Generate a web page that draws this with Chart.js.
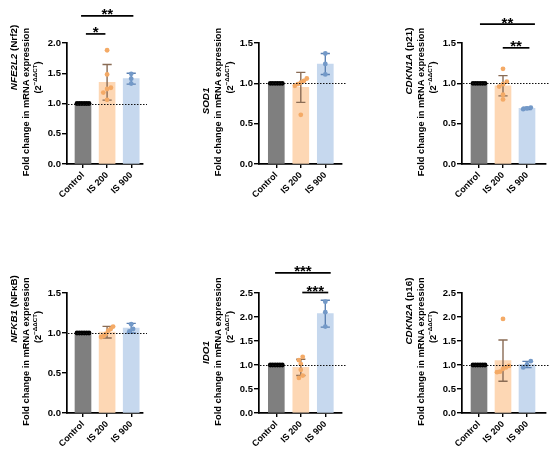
<!DOCTYPE html>
<html>
<head>
<meta charset="utf-8">
<script src="https://cdn.jsdelivr.net/npm/chart.js@4.4.1/dist/chart.umd.min.js"></script>
<style>
  html, body { margin: 0; padding: 0; background: #ffffff; }
  body { width: 550px; height: 455px; position: relative; overflow: hidden; }
  canvas { position: absolute; }
</style>
</head>
<body>
<script>
// ---------------- DATA ----------------
const categories = ['Control', 'IS 200', 'IS 900'];
const geneNames = ['NFE2L2', 'SOD1', 'CDKN1A', 'NFKB1', 'IDO1', 'CDKN2A'];
const geneAliases = [' (Nrf2)', '', ' (p21)', ' (NF\u03BAB)', '', ' (p16)'];
const yAxisMax = [2.0, 1.5, 1.5, 1.5, 2.5, 2.5];
const yTickStep = 0.5;

const nfe2l2Mean = [1.00, 1.35, 1.41];
const nfe2l2SD = [0.00, 0.295, 0.09];
const nfe2l2Control = [1, 1, 1, 1, 1, 1];
const nfe2l2IS200 = [1.88, 1.48, 1.26, 1.24, 1.18, 1.06];
const nfe2l2IS900 = [1.49, 1.41, 1.33];
const nfe2l2Brackets = [[0.12, 0.93, 2.15, '*'], [-0.08, 2.09, 2.45, '**']];

const sod1Mean = [1.00, 0.95, 1.24];
const sod1SD = [0.00, 0.186, 0.13];
const sod1Control = [1, 1, 1, 1, 1, 1];
const sod1IS200 = [1.06, 1.03, 1.01, 0.99, 0.97, 0.61];
const sod1IS900 = [1.37, 1.24, 1.11];
const sod1Brackets = [];

const cdkn1aMean = [1.00, 0.97, 0.69];
const cdkn1aSD = [0.00, 0.125, 0.015];
const cdkn1aControl = [1, 1, 1, 1, 1, 1];
const cdkn1aIS200 = [1.18, 1.02, 0.99, 0.96, 0.86, 0.80];
const cdkn1aIS900 = [0.70, 0.69, 0.68];
const cdkn1aBrackets = [[0.04, 2.33, 1.735, '**'], [0.99, 2.10, 1.44, '**']];

const nfkb1Mean = [1.00, 1.01, 1.06];
const nfkb1SD = [0.00, 0.073, 0.06];
const nfkb1Control = [1, 1, 1, 1, 1, 1];
const nfkb1IS200 = [1.08, 1.05, 1.03, 0.99, 0.96, 0.95];
const nfkb1IS900 = [1.11, 1.05, 1.02];
const nfkb1Brackets = [];

const ido1Mean = [1.00, 0.95, 2.07];
const ido1SD = [0.00, 0.17, 0.28];
const ido1Control = [1, 1, 1, 1, 1, 1];
const ido1IS200 = [1.17, 1.10, 1.02, 0.90, 0.78, 0.73];
const ido1IS900 = [2.32, 2.10, 1.80];
const ido1Brackets = [[-0.05, 2.22, 2.92, '***'], [1.06, 2.12, 2.51, '***']];

const cdkn2aMean = [1.00, 1.09, 1.01];
const cdkn2aSD = [0.00, 0.43, 0.065];
const cdkn2aControl = [1, 1, 1, 1, 1, 1];
const cdkn2aIS200 = [1.96, 0.98, 0.95, 0.92, 0.86, 0.85];
const cdkn2aIS900 = [1.08, 1.01, 0.95];
const cdkn2aBrackets = [];

const referenceLineValue = 1.0;

// ---------------- STYLE / LAYOUT ----------------
const barColors = ['#7f7f7f', '#fdd7b4', '#c6d8ee'];
const pointColors = ['#000000', '#f4aa66', '#7399c8'];
const errColors = ['#111111', '#8a6c55', '#5c81b2'];
const FONT = '"Liberation Sans", Arial, Helvetica, sans-serif';

const layoutCols = [
  { left: 0,   width: 185, axisX: 67,  right: 143, c0: 83,    step: 24.1 },
  { left: 185, width: 180, axisX: 259, right: 342, c0: 276.3, step: 24.5 },
  { left: 365, width: 185, axisX: 462, right: 546, c0: 479,   step: 24.0 }
];
const layoutRows = [
  { top: 0,   height: 227, areaTop: 43,  areaBottom: 164 },
  { top: 227, height: 228, areaTop: 293, areaBottom: 413 }
];
const titleXOffsets = [-53, -40.8, -29];
const line1YOffsets = [-46, -2.5, -42.5, -44, -0.5, -42];

const panelData = [
  [nfe2l2Mean, nfe2l2SD, [nfe2l2Control, nfe2l2IS200, nfe2l2IS900], nfe2l2Brackets],
  [sod1Mean, sod1SD, [sod1Control, sod1IS200, sod1IS900], sod1Brackets],
  [cdkn1aMean, cdkn1aSD, [cdkn1aControl, cdkn1aIS200, cdkn1aIS900], cdkn1aBrackets],
  [nfkb1Mean, nfkb1SD, [nfkb1Control, nfkb1IS200, nfkb1IS900], nfkb1Brackets],
  [ido1Mean, ido1SD, [ido1Control, ido1IS200, ido1IS900], ido1Brackets],
  [cdkn2aMean, cdkn2aSD, [cdkn2aControl, cdkn2aIS200, cdkn2aIS900], cdkn2aBrackets]
];

// horizontal spreading of overlapping points (layout only)
function swarmOffsets(values, pxPerUnit, stepPx) {
  const idx = values.map((v, i) => i).sort((a, b) => values[a] - values[b]);
  const offs = new Array(values.length).fill(0);
  let cluster = [idx[0]];
  const flush = () => {
    const n = cluster.length;
    const gap = n > 1 ? Math.min(3.8, 12 / (n - 1)) : 0;
    cluster.forEach((k, j) => { offs[k] = (j - (n - 1) / 2) * gap / stepPx; });
  };
  for (let j = 1; j < idx.length; j++) {
    if ((values[idx[j]] - values[idx[j - 1]]) * pxPerUnit < 3.8) cluster.push(idx[j]);
    else { flush(); cluster = [idx[j]]; }
  }
  flush();
  return offs;
}

// plugin: error bars, reference line, brackets, axis titles
const decorPlugin = {
  id: 'decor',
  afterDatasetDraw(chart, args) {
    if (args.index !== 0) return;
    const cfg = chart.options.plugins.decor;
    const ctx = chart.ctx;
    const xs = chart.scales.x, ys = chart.scales.y;
    ctx.save();
    cfg.mean.forEach((m, i) => {
      const x = xs.getPixelForValue(i);
      const yT = ys.getPixelForValue(m + cfg.sd[i]);
      const yB = ys.getPixelForValue(m - cfg.sd[i]);
      ctx.strokeStyle = errColors[i];
      ctx.lineWidth = 1.4;
      ctx.beginPath();
      ctx.moveTo(x, yT); ctx.lineTo(x, yB);
      ctx.moveTo(x - 4.6, yT); ctx.lineTo(x + 4.6, yT);
      ctx.moveTo(x - 4.6, yB); ctx.lineTo(x + 4.6, yB);
      ctx.stroke();
    });
    ctx.restore();
  },
  afterDraw(chart) {
    const cfg = chart.options.plugins.decor;
    const ctx = chart.ctx;
    const xs = chart.scales.x, ys = chart.scales.y;
    const area = chart.chartArea;
    ctx.save();
    // dotted reference line
    const yRef = Math.round(ys.getPixelForValue(referenceLineValue)) + 0.5;
    ctx.strokeStyle = '#111';
    ctx.lineWidth = 1.2;
    ctx.setLineDash([1.5, 1.5]);
    ctx.beginPath();
    ctx.moveTo(area.left + 1, yRef);
    ctx.lineTo(area.right + 4, yRef);
    ctx.stroke();
    ctx.setLineDash([]);
    // significance brackets
    ctx.strokeStyle = '#000';
    ctx.fillStyle = '#000';
    ctx.lineWidth = 1.7;
    ctx.font = 'bold 15px ' + FONT;
    ctx.textAlign = 'center';
    ctx.textBaseline = 'alphabetic';
    cfg.brackets.forEach(b => {
      const x1 = xs.getPixelForValue(b[0]);
      const x2 = xs.getPixelForValue(b[1]);
      const y = ys.getPixelForValue(b[2]);
      ctx.beginPath();
      ctx.moveTo(x1, y); ctx.lineTo(x2, y);
      ctx.stroke();
      ctx.fillText(b[3], (x1 + x2) / 2, y + 3.5);
    });
    // axis titles (rotated)
    const cy = (area.top + area.bottom) / 2;
    const drawRot = (x, y, parts) => {
      ctx.save();
      ctx.translate(x, y);
      ctx.rotate(-Math.PI / 2);
      ctx.textAlign = 'left';
      ctx.textBaseline = 'middle';
      let total = 0;
      parts.forEach(p => { ctx.font = p.font; total += ctx.measureText(p.text).width; });
      let cx = -total / 2;
      parts.forEach(p => {
        ctx.font = p.font;
        ctx.fillText(p.text, cx, p.dy || 0);
        cx += ctx.measureText(p.text).width;
      });
      ctx.restore();
    };
    ctx.fillStyle = '#000';
    const ax = area.left;
    const line1 = [{ text: cfg.gene, font: 'italic bold 9.8px ' + FONT }];
    if (cfg.alias) line1.push({ text: cfg.alias, font: 'bold 9.8px ' + FONT });
    drawRot(ax + titleXOffsets[0], cy + cfg.line1Y, line1);
    drawRot(ax + titleXOffsets[1], cy - 1.5, [{ text: 'Fold change in mRNA expression', font: 'bold 9.3px ' + FONT }]);
    drawRot(ax + titleXOffsets[2], cy - 26, [
      { text: '(2', font: 'bold 9.3px ' + FONT },
      { text: '\u2212\u0394\u0394CT', font: 'bold 6.2px ' + FONT, dy: -2.6 },
      { text: ')', font: 'bold 9.3px ' + FONT }
    ]);
    ctx.restore();
  }
};

panelData.forEach((pd, p) => {
  const col = layoutCols[p % 3];
  const row = layoutRows[Math.floor(p / 3)];
  const [mean, sd, pts, brackets] = pd;
  const yMax = yAxisMax[p];
  const pxPerUnit = (row.areaBottom - row.areaTop) / yMax;

  const canvas = document.createElement('canvas');
  canvas.width = col.width; canvas.height = row.height;
  canvas.style.left = col.left + 'px'; canvas.style.top = row.top + 'px';
  canvas.style.width = col.width + 'px'; canvas.style.height = row.height + 'px';
  document.body.appendChild(canvas);

  const xMin = -(col.c0 - col.axisX) / col.step;
  const xMax = (col.right - col.c0) / col.step;

  const datasets = [{
    type: 'bar',
    data: mean.map((m, i) => ({ x: i, y: m })),
    backgroundColor: barColors,
    borderWidth: 0,
    barThickness: 16,
    order: 2
  }];
  pts.forEach((vals, i) => {
    const offs = swarmOffsets(vals, pxPerUnit, col.step);
    datasets.push({
      type: 'scatter',
      data: vals.map((v, k) => ({ x: i + offs[k], y: v })),
      pointRadius: 2.4,
      pointBackgroundColor: pointColors[i],
      pointBorderWidth: 0,
      order: 1
    });
  });

  new Chart(canvas, {
    type: 'bar',
    data: { datasets },
    plugins: [decorPlugin],
    options: {
      responsive: false,
      animation: false,
      devicePixelRatio: window.devicePixelRatio || 1,
      layout: {
        padding: {
          left: 0, bottom: 0,
          top: row.areaTop - row.top,
          right: col.left + col.width - col.right
        }
      },
      plugins: {
        legend: { display: false },
        tooltip: { enabled: false },
        decor: {
          mean, sd, brackets,
          gene: geneNames[p], alias: geneAliases[p],
          line1Y: line1YOffsets[p]
        }
      },
      scales: {
        x: {
          type: 'linear',
          min: xMin, max: xMax,
          offset: false,
          afterBuildTicks: s => { s.ticks = categories.map((c, i) => ({ value: i })); },
          afterFit: s => { s.height = row.top + row.height - row.areaBottom; },
          ticks: {
            callback: v => categories[v] ?? '',
            minRotation: 45, maxRotation: 45, autoSkip: false,
            color: '#000', padding: 2,
            font: { family: FONT, size: 9, weight: 'bold' }
          },
          grid: { display: true, drawOnChartArea: false, drawTicks: true, tickLength: 4, color: '#000', lineWidth: 1.4, offset: false },
          border: { display: true, color: '#000', width: 1.7 }
        },
        y: {
          type: 'linear',
          min: 0, max: yMax,
          afterBuildTicks: s => {
            const t = [];
            for (let k = 0; k * yTickStep <= yMax + 1e-9; k++) t.push({ value: k * yTickStep });
            s.ticks = t;
          },
          afterFit: s => { s.width = col.axisX - col.left; },
          ticks: {
            callback: v => Number(v).toFixed(1),
            color: '#000', padding: 1,
            font: { family: FONT, size: 9.5, weight: 'bold' }
          },
          grid: { display: true, drawOnChartArea: false, drawTicks: true, tickLength: 5, color: '#000', lineWidth: 1.4 },
          border: { display: true, color: '#000', width: 1.7 }
        }
      }
    }
  });
});
</script>
</body>
</html>
